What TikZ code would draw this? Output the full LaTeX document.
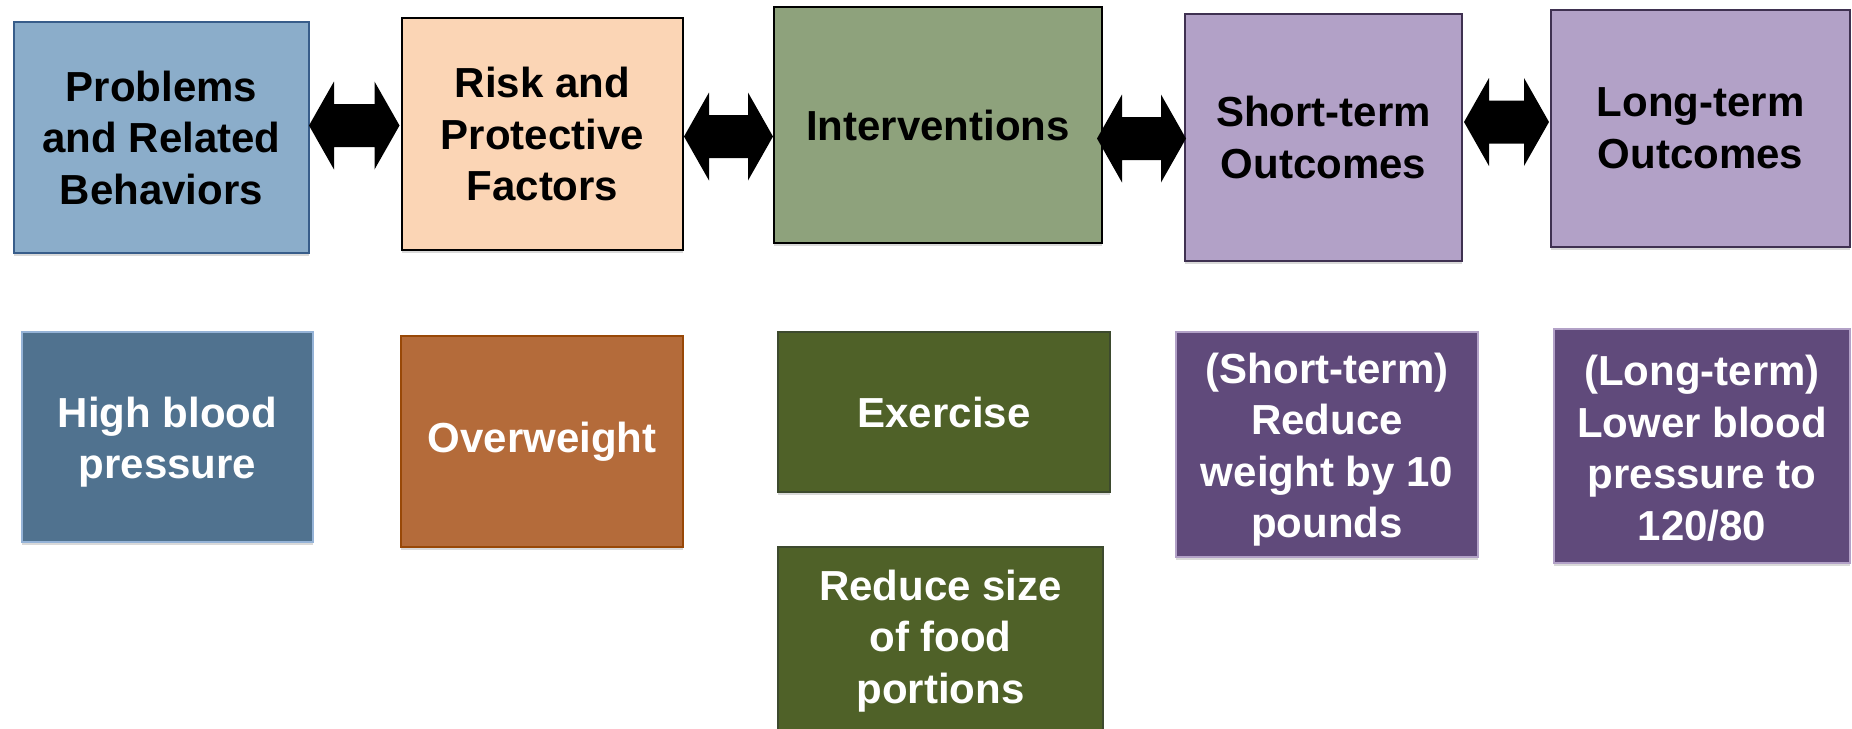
\documentclass[tikz,border=0pt]{standalone}
\usepackage{fontspec}
\setmainfont{Liberation Sans}
\usetikzlibrary{shadows,calc}
\definecolor{probfill}{HTML}{8BADCA}
\definecolor{probdraw}{HTML}{385D8A}
\definecolor{riskfill}{HTML}{FBD5B5}
\definecolor{intfill}{HTML}{8EA27C}
\definecolor{outfill}{HTML}{B2A1C7}
\definecolor{outdraw}{HTML}{3F3151}
\definecolor{hbpfill}{HTML}{50728F}
\definecolor{hbpdraw}{HTML}{95B3D7}
\definecolor{owfill}{HTML}{B46B3A}
\definecolor{owdraw}{HTML}{984807}
\definecolor{exfill}{HTML}{4F6128}
\definecolor{exdraw}{HTML}{3D4A2E}
\definecolor{pufill}{HTML}{604A7B}
\definecolor{pudraw}{HTML}{B2A1C7}
\begin{document}
\begin{tikzpicture}[x=1pt,y=-1pt,
  boxtext/.style={inner sep=0pt, align=center, font=\fontsize{42}{51.5}\selectfont\bfseries},
  box/.style={rectangle, boxtext, line width=2pt,
    drop shadow={shadow xshift=0pt, shadow yshift=-3pt, opacity=0.25, fill=black!60}},
  topbox/.style={box, text=black},
  botbox/.style={box, text=white},
  whitetext/.style={boxtext, text=white},
  blockarrow/.style={fill=black}]
\useasboundingbox (0,0) rectangle (1852,728);
\clip (0,0) rectangle (1852,728);
% top row
\node[topbox, fill=probfill, draw=probdraw, minimum width=295, minimum height=231] (b1) at (161.5,137.5) {Problems\\and Related\\Behaviors};
\node[topbox, fill=riskfill, draw=black, minimum width=281, minimum height=232] (b2) at (542.5,134) {Risk and\\Protective\\Factors};
\node[topbox, fill=intfill, draw=black, minimum width=328, minimum height=236] (b3) at (938,125) {Interventions};
\node[topbox, fill=outfill, draw=outdraw, minimum width=277, minimum height=247] (b4) at (1323.5,137.5) {Short-term\\Outcomes};
\node[topbox, fill=outfill, draw=outdraw, minimum width=299, minimum height=237] (b5) at (1700.5,128.5) {Long-term\\Outcomes};
% bottom row
\node[botbox, fill=hbpfill, draw=hbpdraw, minimum width=291, minimum height=210,
  label={[whitetext, yshift=-5]center:{High blood\\pressure}}] (c1) at (167.5,437) {};
\node[botbox, fill=owfill, draw=owdraw, minimum width=282, minimum height=211] (c2) at (542,441.5) {Overweight};
\node[botbox, fill=exfill, draw=exdraw, minimum width=332, minimum height=160] (c3) at (944,412) {Exercise};
\node[botbox, fill=exfill, draw=exdraw, minimum width=325, minimum height=188] (c4) at (940.5,641) {Reduce size\\of food\\portions};
\node[botbox, fill=pufill, draw=pudraw, minimum width=302, minimum height=225,
  label={[whitetext, yshift=-5]center:{(Short-term)\\Reduce\\weight by 10\\pounds}}] (c5) at (1327,444.5) {};
\node[botbox, fill=pufill, draw=pudraw, minimum width=296, minimum height=234,
  label={[whitetext, yshift=-2]center:{(Long-term)\\Lower blood\\pressure to\\120/80}}] (c6) at (1702,446) {};
% arrow end points
\coordinate (a1l) at ([xshift=-1]b1.east |- 0,125.5);
\coordinate (a1r) at ([xshift=-1.5]b2.west |- 0,125.5);
\coordinate (a2l) at (b2.east |- 0,136.5);
\coordinate (a2r) at (b3.west |- 0,136.5);
\coordinate (a3l) at ([xshift=-6]b3.east |- 0,138.5);
\coordinate (a3r) at ([xshift=2]b4.west |- 0,138.5);
\coordinate (a4l) at ([xshift=1]b4.east |- 0,122);
\coordinate (a4r) at ([xshift=-1]b5.west |- 0,122);
\foreach \l/\r in {a1l/a1r, a2l/a2r, a3l/a3r, a4l/a4r}{
  \fill[blockarrow] (\l) -- ($(\l)+(25,-44)$) -- ($(\l)+(25,-21.5)$) -- ($(\r)+(-25,-21.5)$)
    -- ($(\r)+(-25,-44)$) -- (\r) -- ($(\r)+(-25,44)$) -- ($(\r)+(-25,21.5)$)
    -- ($(\l)+(25,21.5)$) -- ($(\l)+(25,44)$) -- cycle;
}
\end{tikzpicture}
\end{document}
